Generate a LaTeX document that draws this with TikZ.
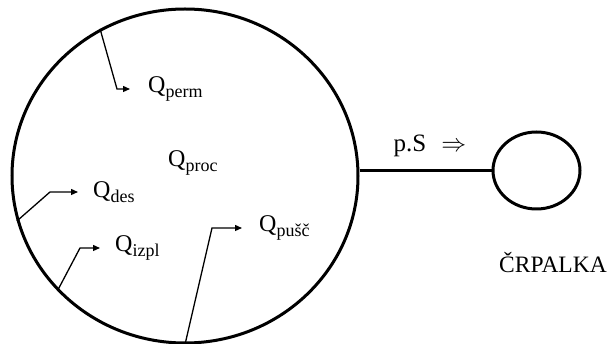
\documentclass[tikz,border=0pt]{standalone}
\usepackage{fontspec}
\setmainfont{Liberation Serif}
\usepackage{tikz}
\usetikzlibrary{arrows.meta, shapes.geometric, positioning}
\tikzset{
	tri/.tip={Triangle[length=7pt, width=6pt]},
	vessel/.style={draw, ellipse, line width=3pt, inner sep=0pt},
	flow/.style={-tri, line width=1.3pt},
	qlabel/.style={anchor=west, inner sep=2pt, font=\fontsize{24}{28}\selectfont},
}
\newcommand{\qsub}[1]{{\fontsize{18}{18}\selectfont\raisebox{-5pt}{#1}}}

\begin{document}
\begin{tikzpicture}[x=1pt, y=-1pt]
	\useasboundingbox (0,0) rectangle (611,344);
	
	% Vessel and pump
	\node[vessel, minimum width=346pt, minimum height=334pt] (tank) at (185,176) {};
	\node[vessel, minimum width=87pt, minimum height=77pt] (pump) at (536.5,170.5) {};
	\draw[line width=3pt] (tank.east |- pump.west) -- (pump.west);
	
	\node[font=\fontsize{25}{28}\selectfont] (flux) at (430,146) {p.S\hspace{15pt}$\Rightarrow$};
	\node[font=\fontsize{23.5}{26}\selectfont] (pumpname) at (553,263) {ČRPALKA};
	
	% Gas loads
	\node[qlabel] (perm) at (146,89) {Q\qsub{perm}};
	\node[qlabel] (proc) at (166,163) {Q\qsub{proc}};
	\node[qlabel] (des) at (91,192) {Q\qsub{des}};
	\node[qlabel] (izpl) at (113,248) {Q\qsub{izpl}};
	\node[qlabel] (pusc) at (257,228) {Q\qsub{pušč}};
	
	\coordinate (permbend) at (117,89);
	\coordinate (desbend) at (50,192);
	\coordinate (izplbend) at (80,248);
	\coordinate (puscbend) at (212,228);
	
	\draw[flow, shorten >=16pt] (tank.120) -- (permbend) -- (perm.west);
	\draw[flow, shorten >=13pt] (tank.195) -- (desbend) -- (des.west);
	\draw[flow, shorten >=13pt] (tank.222) -- (izplbend) -- (izpl.west);
	\draw[flow, shorten >=15pt] (tank.270) -- (puscbend) -- (pusc.west);
\end{tikzpicture}
\end{document}
